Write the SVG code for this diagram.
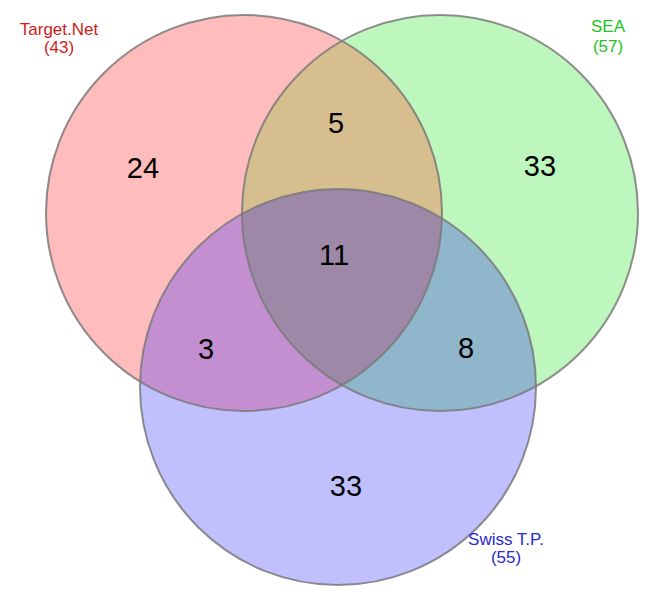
<svg xmlns="http://www.w3.org/2000/svg" width="654" height="598" viewBox="0 0 654 598">
<style>
.num{font-family:"Liberation Sans",Arial,sans-serif;font-size:29px;fill:#000;text-anchor:middle}
.lab{font-family:"Liberation Sans",Arial,sans-serif;font-size:17px;text-anchor:middle}
.edge{fill:none;stroke:#7a7a7a;stroke-width:2;stroke-opacity:0.85}
</style>
<defs>
<clipPath id="cR"><circle cx="244" cy="213" r="198"/></clipPath>
<clipPath id="cG"><circle cx="440" cy="213" r="198"/></clipPath>
<clipPath id="cB"><circle cx="338" cy="387" r="198"/></clipPath>
</defs>
<rect width="654" height="598" fill="#fff"/>
<g id="regions">
<circle cx="244" cy="213" r="198" fill="#ffbcbc"/>
<circle cx="440" cy="213" r="198" fill="#bdf7bd"/>
<circle cx="338" cy="387" r="198" fill="#c0c0ff"/>
<circle cx="440" cy="213" r="198" fill="#d6be8f" clip-path="url(#cR)"/>
<circle cx="338" cy="387" r="198" fill="#c48fd0" clip-path="url(#cR)"/>
<g clip-path="url(#cG)"><circle cx="338" cy="387" r="198" fill="#8fb6cb"/></g>
<g clip-path="url(#cG)"><circle cx="338" cy="387" r="198" fill="#9e88a8" clip-path="url(#cR)"/></g>
</g>
<g id="connectors">
<circle class="edge" cx="244" cy="213" r="198"/>
<circle class="edge" cx="440" cy="213" r="198"/>
<circle class="edge" cx="338" cy="387" r="198"/>
</g>
<g id="TargetNet">
<text class="lab" x="59" y="35" fill="#d01c1c">Target.Net</text>
<text class="lab" x="59" y="53" fill="#d01c1c">(43)</text>
<text class="num" x="143" y="178">24</text>
</g>
<g id="SEA">
<text class="lab" x="608" y="32" fill="#22c422">SEA</text>
<text class="lab" x="608" y="52" fill="#22c422">(57)</text>
<text class="num" x="540" y="176">33</text>
</g>
<g id="SwissTP">
<text class="lab" x="506" y="545" fill="#2a2ad0">Swiss T.P.</text>
<text class="lab" x="506" y="563" fill="#2a2ad0">(55)</text>
<text class="num" x="346" y="496">33</text>
</g>
<g id="overlaps">
<text class="num" x="336" y="133">5</text>
<text class="num" x="334" y="265">11</text>
<text class="num" x="206" y="359">3</text>
<text class="num" x="466" y="358">8</text>
</g>
</svg>
